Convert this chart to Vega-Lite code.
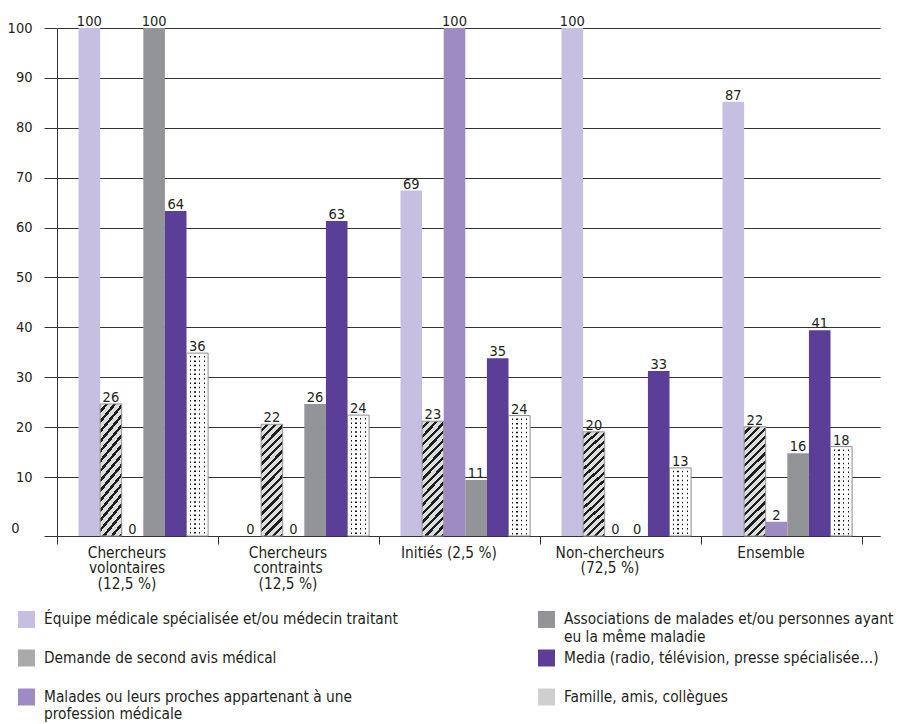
{
  "$schema": "https://vega.github.io/schema/vega-lite/v6.json",
  "width": 823,
  "height": 508,
  "autosize": {"type": "none"},
  "padding": {"left": 57, "top": 28, "right": 21, "bottom": 188},
  "background": "#ffffff",
  "config": {
    "font": "DejaVu Sans Condensed, DejaVu Sans, sans-serif",
    "view": {"stroke": null},
    "axis": {"labelFont": "DejaVu Sans Condensed, DejaVu Sans, sans-serif", "labelColor": "#231f20"},
    "legend": {"labelFont": "DejaVu Sans Condensed, DejaVu Sans, sans-serif"}
  },
  "data": {
    "values": [
      {"group": "Chercheurs volontaires (12,5 %)", "series": "Équipe médicale spécialisée et/ou médecin traitant", "label": 100, "bar": 100},
      {"group": "Chercheurs volontaires (12,5 %)", "series": "Demande de second avis médical", "label": 26, "bar": 26},
      {"group": "Chercheurs volontaires (12,5 %)", "series": "Malades ou leurs proches appartenant à une profession médicale", "label": 0, "bar": 0},
      {"group": "Chercheurs volontaires (12,5 %)", "series": "Associations de malades et/ou personnes ayant eu la même maladie", "label": 100, "bar": 100},
      {"group": "Chercheurs volontaires (12,5 %)", "series": "Media (radio, télévision, presse spécialisée…)", "label": 64, "bar": 64},
      {"group": "Chercheurs volontaires (12,5 %)", "series": "Famille, amis, collègues", "label": 36, "bar": 36},
      {"group": "Chercheurs contraints (12,5 %)", "series": "Équipe médicale spécialisée et/ou médecin traitant", "label": 0, "bar": 0},
      {"group": "Chercheurs contraints (12,5 %)", "series": "Demande de second avis médical", "label": 22, "bar": 22},
      {"group": "Chercheurs contraints (12,5 %)", "series": "Malades ou leurs proches appartenant à une profession médicale", "label": 0, "bar": 0},
      {"group": "Chercheurs contraints (12,5 %)", "series": "Associations de malades et/ou personnes ayant eu la même maladie", "label": 26, "bar": 26},
      {"group": "Chercheurs contraints (12,5 %)", "series": "Media (radio, télévision, presse spécialisée…)", "label": 63, "bar": 62},
      {"group": "Chercheurs contraints (12,5 %)", "series": "Famille, amis, collègues", "label": 24, "bar": 23.8},
      {"group": "Initiés (2,5 %)", "series": "Équipe médicale spécialisée et/ou médecin traitant", "label": 69, "bar": 68},
      {"group": "Initiés (2,5 %)", "series": "Demande de second avis médical", "label": 23, "bar": 22.6},
      {"group": "Initiés (2,5 %)", "series": "Malades ou leurs proches appartenant à une profession médicale", "label": 100, "bar": 100},
      {"group": "Initiés (2,5 %)", "series": "Associations de malades et/ou personnes ayant eu la même maladie", "label": 11, "bar": 11},
      {"group": "Initiés (2,5 %)", "series": "Media (radio, télévision, presse spécialisée…)", "label": 35, "bar": 35},
      {"group": "Initiés (2,5 %)", "series": "Famille, amis, collègues", "label": 24, "bar": 23.7},
      {"group": "Non-chercheurs (72,5 %)", "series": "Équipe médicale spécialisée et/ou médecin traitant", "label": 100, "bar": 100},
      {"group": "Non-chercheurs (72,5 %)", "series": "Demande de second avis médical", "label": 20, "bar": 20.5},
      {"group": "Non-chercheurs (72,5 %)", "series": "Malades ou leurs proches appartenant à une profession médicale", "label": 0, "bar": 0},
      {"group": "Non-chercheurs (72,5 %)", "series": "Associations de malades et/ou personnes ayant eu la même maladie", "label": 0, "bar": 0},
      {"group": "Non-chercheurs (72,5 %)", "series": "Media (radio, télévision, presse spécialisée…)", "label": 33, "bar": 32.5},
      {"group": "Non-chercheurs (72,5 %)", "series": "Famille, amis, collègues", "label": 13, "bar": 13.4},
      {"group": "Ensemble", "series": "Équipe médicale spécialisée et/ou médecin traitant", "label": 87, "bar": 85.5},
      {"group": "Ensemble", "series": "Demande de second avis médical", "label": 22, "bar": 21.5},
      {"group": "Ensemble", "series": "Malades ou leurs proches appartenant à une profession médicale", "label": 2, "bar": 2.8},
      {"group": "Ensemble", "series": "Associations de malades et/ou personnes ayant eu la même maladie", "label": 16, "bar": 16.3},
      {"group": "Ensemble", "series": "Media (radio, télévision, presse spécialisée…)", "label": 41, "bar": 40.5},
      {"group": "Ensemble", "series": "Famille, amis, collègues", "label": 18, "bar": 17.6}
    ]
  },
  "encoding": {
    "x": {
      "field": "group",
      "type": "nominal",
      "sort": ["Chercheurs volontaires (12,5 %)", "Chercheurs contraints (12,5 %)", "Initiés (2,5 %)", "Non-chercheurs (72,5 %)", "Ensemble"],
      "scale": {"paddingInner": 0, "paddingOuter": 0.0559, "align": 0},
      "axis": {
        "title": null,
        "labelAngle": 0,
        "tickBand": "extent",
        "tickSize": 8,
        "tickColor": "#333333",
        "domainColor": "#333333",
        "labelPadding": 1,
        "labelFontSize": 15.3,
        "labelLineHeight": 15.5,
        "labelBaseline": "top",
        "labelOffset": -11,
        "labelLimit": 300,
        "labelExpr": "datum.label === 'Chercheurs volontaires (12,5 %)' ? ['Chercheurs', 'volontaires', '(12,5 %)'] : datum.label === 'Chercheurs contraints (12,5 %)' ? ['Chercheurs', 'contraints', '(12,5 %)'] : datum.label === 'Non-chercheurs (72,5 %)' ? ['Non-chercheurs', '(72,5 %)'] : datum.label"
      }
    },
    "xOffset": {
      "field": "series",
      "type": "nominal",
      "sort": ["Équipe médicale spécialisée et/ou médecin traitant", "Demande de second avis médical", "Malades ou leurs proches appartenant à une profession médicale", "Associations de malades et/ou personnes ayant eu la même maladie", "Media (radio, télévision, presse spécialisée…)", "Famille, amis, collègues"],
      "scale": {"paddingInner": 0, "paddingOuter": 0.727, "align": 0.685}
    },
    "y": {
      "field": "bar",
      "type": "quantitative",
      "scale": {"domain": [0, 100], "nice": false},
      "axis": {
        "title": null,
        "values": [0, 11.59, 21.42, 31.24, 41.06, 50.89, 60.71, 70.53, 80.35, 90.18, 100],
        "labelExpr": "format(round(datum.value / 10) * 10, 'd')",
        "grid": true,
        "gridColor": "#333333",
        "gridWidth": 1,
        "tickSize": 13,
        "tickColor": "#333333",
        "domainColor": "#333333",
        "labelFontSize": 14.5,
        "labelPadding": {"condition": {"test": "datum.value === 0", "value": 25}, "value": 12},
        "labelOffset": {"condition": {"test": "datum.value === 0", "value": -8}, "value": 0}
      }
    }
  },
  "layer": [
    {
      "transform": [{"filter": "datum.series !== 'Famille, amis, collègues'"}],
      "mark": {"type": "bar"},
      "encoding": {
        "color": {
          "field": "series",
          "type": "nominal",
          "scale": {
            "domain": ["Équipe médicale spécialisée et/ou médecin traitant", "Demande de second avis médical", "Malades ou leurs proches appartenant à une profession médicale", "Associations de malades et/ou personnes ayant eu la même maladie", "Media (radio, télévision, presse spécialisée…)", "Famille, amis, collègues"],
            "range": ["#c6bfe1", "#a9aaaa", "#9f8bc4", "#939497", "#5a3e98", "#cfcfcf"]
          },
          "legend": {
            "title": null,
            "orient": "none",
            "legendX": -39,
            "legendY": 582.5,
            "columns": 2,
            "columnPadding": 140,
            "rowPadding": 4,
            "gridAlign": "all",
            "padding": 0,
            "symbolType": "square",
            "symbolSize": 289,
            "symbolStrokeWidth": 0,
            "labelFontSize": 15.3,
            "labelColor": "#231f20",
            "labelOffset": 9,
            "labelLimit": 600,
            "labelExpr": "datum.label === 'Malades ou leurs proches appartenant à une profession médicale' ? ['Malades ou leurs proches appartenant à une', 'profession médicale'] : datum.label === 'Associations de malades et/ou personnes ayant eu la même maladie' ? ['Associations de malades et/ou personnes ayant', 'eu la même maladie'] : [datum.label, ' ']",
            "encode": {
              "labels": {
                "lineHeight": {"value": 13}
              }
            }
          }
        }
      }
    },
    {
      "transform": [{"filter": "datum.series === 'Demande de second avis médical'"}],
      "mark": {
        "type": "bar",
        "stroke": "#9a9a9a",
        "strokeWidth": 1,
        "fill": {
          "gradient": "linear",
          "x1": 0, "y1": 0, "x2": 0.226, "y2": 1.152,
          "stops": [
            {"offset": 0, "color": "#dcdddd"}, {"offset": 0.038, "color": "#dcdddd"}, {"offset": 0.038, "color": "#1e1e1e"}, {"offset": 0.0625, "color": "#1e1e1e"},
            {"offset": 0.0625, "color": "#dcdddd"}, {"offset": 0.1005, "color": "#dcdddd"}, {"offset": 0.1005, "color": "#1e1e1e"}, {"offset": 0.125, "color": "#1e1e1e"},
            {"offset": 0.125, "color": "#dcdddd"}, {"offset": 0.163, "color": "#dcdddd"}, {"offset": 0.163, "color": "#1e1e1e"}, {"offset": 0.1875, "color": "#1e1e1e"},
            {"offset": 0.1875, "color": "#dcdddd"}, {"offset": 0.2255, "color": "#dcdddd"}, {"offset": 0.2255, "color": "#1e1e1e"}, {"offset": 0.25, "color": "#1e1e1e"},
            {"offset": 0.25, "color": "#dcdddd"}, {"offset": 0.288, "color": "#dcdddd"}, {"offset": 0.288, "color": "#1e1e1e"}, {"offset": 0.3125, "color": "#1e1e1e"},
            {"offset": 0.3125, "color": "#dcdddd"}, {"offset": 0.3505, "color": "#dcdddd"}, {"offset": 0.3505, "color": "#1e1e1e"}, {"offset": 0.375, "color": "#1e1e1e"},
            {"offset": 0.375, "color": "#dcdddd"}, {"offset": 0.413, "color": "#dcdddd"}, {"offset": 0.413, "color": "#1e1e1e"}, {"offset": 0.4375, "color": "#1e1e1e"},
            {"offset": 0.4375, "color": "#dcdddd"}, {"offset": 0.4755, "color": "#dcdddd"}, {"offset": 0.4755, "color": "#1e1e1e"}, {"offset": 0.5, "color": "#1e1e1e"},
            {"offset": 0.5, "color": "#dcdddd"}, {"offset": 0.538, "color": "#dcdddd"}, {"offset": 0.538, "color": "#1e1e1e"}, {"offset": 0.5625, "color": "#1e1e1e"},
            {"offset": 0.5625, "color": "#dcdddd"}, {"offset": 0.6005, "color": "#dcdddd"}, {"offset": 0.6005, "color": "#1e1e1e"}, {"offset": 0.625, "color": "#1e1e1e"},
            {"offset": 0.625, "color": "#dcdddd"}, {"offset": 0.663, "color": "#dcdddd"}, {"offset": 0.663, "color": "#1e1e1e"}, {"offset": 0.6875, "color": "#1e1e1e"},
            {"offset": 0.6875, "color": "#dcdddd"}, {"offset": 0.7255, "color": "#dcdddd"}, {"offset": 0.7255, "color": "#1e1e1e"}, {"offset": 0.75, "color": "#1e1e1e"},
            {"offset": 0.75, "color": "#dcdddd"}, {"offset": 0.788, "color": "#dcdddd"}, {"offset": 0.788, "color": "#1e1e1e"}, {"offset": 0.8125, "color": "#1e1e1e"},
            {"offset": 0.8125, "color": "#dcdddd"}, {"offset": 0.8505, "color": "#dcdddd"}, {"offset": 0.8505, "color": "#1e1e1e"}, {"offset": 0.875, "color": "#1e1e1e"},
            {"offset": 0.875, "color": "#dcdddd"}, {"offset": 0.913, "color": "#dcdddd"}, {"offset": 0.913, "color": "#1e1e1e"}, {"offset": 0.9375, "color": "#1e1e1e"},
            {"offset": 0.9375, "color": "#dcdddd"}, {"offset": 0.9755, "color": "#dcdddd"}, {"offset": 0.9755, "color": "#1e1e1e"}, {"offset": 1, "color": "#1e1e1e"}
          ]
        }
      }
    },
    {
      "transform": [{"filter": "datum.series === 'Famille, amis, collègues'"}],
      "mark": {
        "type": "bar",
        "stroke": "transparent",
        "fill": {
          "gradient": "linear",
          "x1": 0, "y1": 0, "x2": 1, "y2": 0,
          "stops": [
            {"offset": 0, "color": "#ffffff"}, {"offset": 0.141, "color": "#ffffff"}, {"offset": 0.141, "color": "#111111"}, {"offset": 0.211, "color": "#111111"},
            {"offset": 0.211, "color": "#ffffff"}, {"offset": 0.359, "color": "#ffffff"}, {"offset": 0.359, "color": "#111111"}, {"offset": 0.429, "color": "#111111"},
            {"offset": 0.429, "color": "#ffffff"}, {"offset": 0.571, "color": "#ffffff"}, {"offset": 0.571, "color": "#111111"}, {"offset": 0.641, "color": "#111111"},
            {"offset": 0.641, "color": "#ffffff"}, {"offset": 0.789, "color": "#ffffff"}, {"offset": 0.789, "color": "#111111"}, {"offset": 0.859, "color": "#111111"},
            {"offset": 0.859, "color": "#ffffff"}, {"offset": 1, "color": "#ffffff"}
          ]
        }
      }
    },
    {
      "transform": [{"filter": "datum.series === 'Famille, amis, collègues'"}],
      "mark": {"type": "rule", "strokeWidth": 19, "strokeDash": [2.9, 1.5], "color": "#ffffff"},
      "encoding": {"y2": {"datum": 0}}
    },
    {
      "transform": [{"filter": "datum.series === 'Famille, amis, collègues'"}],
      "mark": {"type": "bar", "fillOpacity": 0, "stroke": "#8c8c8c", "strokeWidth": 1}
    },
    {
      "mark": {"type": "text", "dy": -2, "baseline": "alphabetic", "fontSize": 14.5, "color": "#231f20"},
      "encoding": {"text": {"field": "label", "type": "quantitative"}}
    }
  ]
}
